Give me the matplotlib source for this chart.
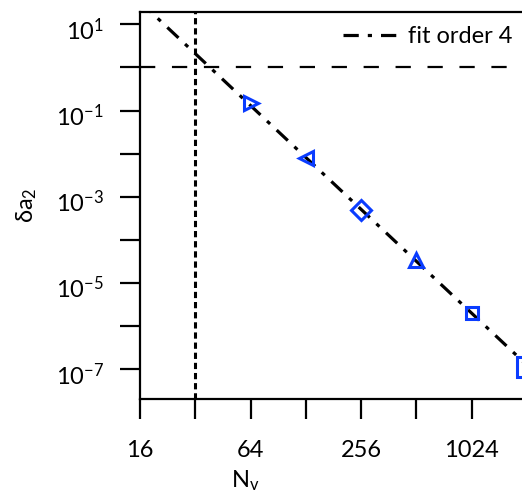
import numpy as np
import matplotlib
matplotlib.use("Agg")
import matplotlib.pyplot as plt
from matplotlib.ticker import FixedLocator, NullFormatter, FixedFormatter, NullLocator
from matplotlib.transforms import ScaledTranslation

plt.rcParams['font.family'] = ['Lato', 'DejaVu Sans']
plt.rcParams['mathtext.fontset'] = 'custom'
plt.rcParams['mathtext.rm'] = 'Lato'
plt.rcParams['lines.scale_dashes'] = False

# data
N_vals = [64, 128, 256, 512, 1024, 2048]
delta_a2 = [0.150, 7.94e-3, 4.94e-4, 3.43e-5, 2.02e-6, 1.13e-7]
markers = ['>', '<', 'D', '^', 's', 's']
marker_sizes = [10, 10, 10, 10.5, 8.5, 15]
fit_N = [16, 2048]
fit_y = [33.4, 1.245e-7]
ref_N = 32
ref_y = 1.0
x_ticks = [16, 32, 64, 128, 256, 512, 1024, 2048]
x_ticklabels = ['16', '', '64', '', '256', '', '1024', '']
y_ticks = [1e1, 1e0, 1e-1, 1e-2, 1e-3, 1e-4, 1e-5, 1e-6, 1e-7]
y_label_vals = [1e1, 1e-1, 1e-3, 1e-5, 1e-7]
y_label_exps = ['1', '-1', '-3', '-5', '-7']

W, H = 522, 492
fig = plt.figure(figsize=(W/100, H/100), dpi=100)
ax = fig.add_axes([140/W, (H-399)/H, 382/W, 387/H])
ax.set_xscale('log', base=2)
ax.set_yscale('log')
ax.set_xlim(16, 1922)
ax.set_ylim(2.05e-8, 19.3)

blue = '#0a3cff'
ax.plot(fit_N, fit_y, color='black', lw=2.3, dashes=(11, 6.5, 3, 6.5), label='fit order 4', zorder=3)
ax.axhline(ref_y, color='black', lw=1.6, dashes=(11, 12), zorder=2)
ax.axvline(ref_N, color='black', lw=2.2, dashes=(4.5, 2.8), zorder=2)
for n, v, m, ms in zip(N_vals, delta_a2, markers, marker_sizes):
    ax.plot([n], [v], linestyle='none', marker=m, markersize=ms,
            markerfacecolor='none', markeredgecolor=blue, markeredgewidth=2.2, zorder=4)

ax.xaxis.set_major_locator(FixedLocator(x_ticks))
ax.xaxis.set_major_formatter(FixedFormatter(x_ticklabels))
ax.xaxis.set_minor_locator(NullLocator())
ax.yaxis.set_major_locator(FixedLocator(y_ticks))
ax.yaxis.set_major_formatter(NullFormatter())
ax.yaxis.set_minor_locator(NullLocator())
ax.tick_params(axis='both', direction='out', length=14.5, width=1.6, colors='black')
ax.tick_params(axis='x', labelsize=17, pad=15)

# y tick labels (10^k), placed left of the ticks
lab_trans = ax.get_yaxis_transform() + ScaledTranslation(-36/100, -6/100, fig.dpi_scale_trans)
for v, e in zip(y_label_vals, y_label_exps):
    ax.text(0, v, r'$\mathregular{10^{%s}}$' % e, transform=lab_trans, fontsize=17,
            ha='right', va='center', clip_on=False)

for s in ['left', 'bottom', 'top']:
    ax.spines[s].set_linewidth(1.6)
ax.spines['right'].set_visible(False)

fig.text(245/W, 1-481/H, r'$\mathregular{N_v}$', fontsize=17, ha='center', va='center')
fig.text(27/W, 1-205/H, r'$\mathregular{\delta a_2}$', fontsize=17, ha='center', va='center', rotation=90)

leg = ax.legend(loc='upper right', bbox_to_anchor=(1.0, 1 - 5/387), frameon=False, fontsize=17,
                handlelength=2.25, handletextpad=0.5, borderaxespad=0.0)

fig.savefig('out.png', dpi=100)
